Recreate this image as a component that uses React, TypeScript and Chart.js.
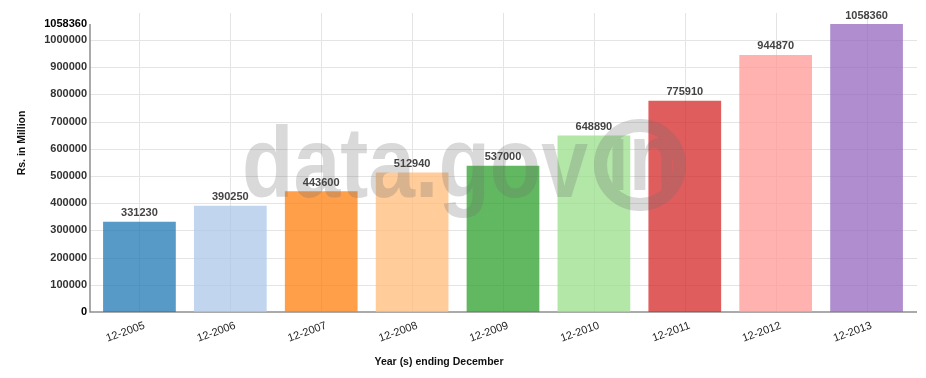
import React, { useEffect, useRef } from "react";
import { Chart, registerables } from "chart.js";

Chart.register(...registerables);

const categories = ["12-2005", "12-2006", "12-2007", "12-2008", "12-2009", "12-2010", "12-2011", "12-2012", "12-2013"];
const values = [331230, 390250, 443600, 512940, 537000, 648890, 775910, 944870, 1058360];
const barColors = [
  "rgba(31,119,180,0.75)",
  "rgba(174,199,232,0.75)",
  "rgba(255,127,14,0.75)",
  "rgba(255,187,120,0.75)",
  "rgba(44,160,44,0.75)",
  "rgba(152,223,138,0.75)",
  "rgba(214,39,40,0.75)",
  "rgba(255,152,150,0.75)",
  "rgba(148,103,189,0.75)",
];
const yTickValues = [0, 100000, 200000, 300000, 400000, 500000, 600000, 700000, 800000, 900000, 1000000, 1058360];
const xTitle = "Year (s) ending December";
const yTitle = "Rs. in Million";
const watermarkText = "data.gov";
const watermarkBadge = "in";

const FONT = "'Liberation Sans', Arial, Helvetica, sans-serif";

const decorPlugin = {
  id: "decor",
  beforeDatasetsDraw(chart: any) {
    const { ctx, chartArea } = chart;
    const xs = chart.scales.x;
    const ys = chart.scales.y;
    const left = chartArea.left - 4;
    const right = chartArea.right + 5;
    ctx.save();
    ctx.strokeStyle = "#e4e4e4";
    ctx.lineWidth = 1;
    ys.ticks.forEach((t: any) => {
      if (t.value === 0 || t.value === yTickValues[yTickValues.length - 1]) return;
      const y = Math.round(ys.getPixelForValue(t.value)) + 0.5;
      ctx.beginPath();
      ctx.moveTo(left, y);
      ctx.lineTo(right, y);
      ctx.stroke();
    });
    categories.forEach((_, i) => {
      const x = Math.round(xs.getPixelForValue(i)) + 0.5;
      ctx.beginPath();
      ctx.moveTo(x, chartArea.top - 11);
      ctx.lineTo(x, chartArea.bottom);
      ctx.stroke();
    });
    ctx.strokeStyle = "#8f8f8f";
    ctx.lineWidth = 1.5;
    ctx.beginPath();
    ctx.moveTo(left, chartArea.top);
    ctx.lineTo(left, chartArea.bottom);
    ctx.lineTo(right, chartArea.bottom);
    ctx.stroke();
    ctx.restore();
  },
  afterDatasetsDraw(chart: any) {
    const { ctx, chartArea } = chart;
    ctx.save();
    // watermark
    const wm = "rgba(110,110,110,0.26)";
    ctx.fillStyle = wm;
    ctx.font = `bold 100px ${FONT}`;
    ctx.textBaseline = "alphabetic";
    ctx.textAlign = "left";
    const wx = chartArea.left + 148;
    const wy = chartArea.top + 173;
    const w = ctx.measureText(watermarkText).width;
    ctx.save();
    ctx.translate(wx, wy);
    ctx.scale(346 / w, 1);
    ctx.fillText(watermarkText, 0, 0);
    ctx.restore();
    const cx = chartArea.left + 546;
    const cy = chartArea.top + 141;
    ctx.strokeStyle = wm;
    ctx.lineWidth = 13;
    ctx.beginPath();
    ctx.arc(cx, cy, 39.5, 0, Math.PI * 2);
    ctx.stroke();
    ctx.save();
    ctx.beginPath();
    ctx.arc(cx, cy, 33, 0, Math.PI * 2);
    ctx.clip();
    ctx.font = `bold 96px ${FONT}`;
    const bw = ctx.measureText(watermarkBadge).width;
    ctx.translate(cx + 2, cy + 25);
    ctx.scale(70 / bw, 1);
    ctx.textAlign = "center";
    ctx.textBaseline = "alphabetic";
    ctx.fillText(watermarkBadge, 0, 0);
    ctx.restore();

    // value labels
    const meta = chart.getDatasetMeta(0);
    ctx.fillStyle = "#444";
    ctx.font = `bold 11px ${FONT}`;
    ctx.textAlign = "center";
    ctx.textBaseline = "bottom";
    meta.data.forEach((bar: any, i: number) => {
      ctx.fillText(String(values[i]), bar.x, bar.y - 3);
    });
    ctx.restore();
  },
  afterDraw(chart: any) {
    const { ctx } = chart;
    ctx.save();
    ctx.fillStyle = "#111";
    ctx.font = `bold 10.5px ${FONT}`;
    ctx.textAlign = "center";
    ctx.textBaseline = "middle";
    ctx.fillText(xTitle, 439, 362);
    ctx.translate(22, 143);
    ctx.rotate(-Math.PI / 2);
    ctx.fillText(yTitle, 0, 0);
    ctx.restore();
  },
};

export default function App() {
  const ref = useRef<HTMLCanvasElement | null>(null);
  useEffect(() => {
    document.body.style.margin = "0";
    const canvas = ref.current;
    if (!canvas) return;
    const maxV = yTickValues[yTickValues.length - 1];
    const chart = new Chart(canvas, {
      type: "bar",
      data: {
        labels: categories,
        datasets: [
          {
            data: values,
            backgroundColor: barColors,
            borderWidth: 0,
            barPercentage: 0.8,
            categoryPercentage: 1,
          },
        ],
      },
      options: {
        animation: false,
        responsive: false,
        maintainAspectRatio: false,
        layout: { padding: { top: 24, right: 14, bottom: 0, left: 0 } },
        plugins: { legend: { display: false }, tooltip: { enabled: false } },
        scales: {
          x: {
            grid: { display: false, drawTicks: false },
            border: { display: false },
            ticks: {
              minRotation: 20,
              maxRotation: 20,
              padding: 7,
              labelOffset: 5,
              color: "#222",
              font: { family: FONT, size: 11 },
            },
            afterFit(scale: any) {
              scale.height = 66;
            },
          },
          y: {
            min: 0,
            max: maxV,
            grid: { display: false, drawTicks: false },
            border: { display: false },
            afterBuildTicks(scale: any) {
              scale.ticks = yTickValues.map((v) => ({ value: v }));
            },
            afterFit(scale: any) {
              scale.width = 94;
            },
            ticks: {
              padding: 7,
              autoSkip: false,
              callback: (v: any) => String(v),
              color: (c: any) =>
                c.tick && (c.tick.value === 0 || c.tick.value === maxV) ? "#000" : "#333",
              font: { family: FONT, size: 11, weight: "bold" },
            },
          },
        },
      },
      plugins: [decorPlugin],
    });
    return () => chart.destroy();
  }, []);
  return (
    <div style={{ width: 926, height: 378 }}>
      <canvas ref={ref} width={926} height={378} style={{ display: "block" }} />
    </div>
  );
}
